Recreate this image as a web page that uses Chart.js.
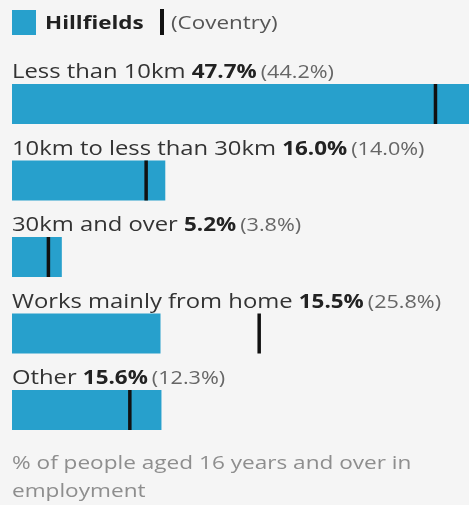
<!DOCTYPE html>
<html>
<head>
<meta charset="utf-8">
<script src="https://cdn.jsdelivr.net/npm/chart.js@4.4.1/dist/chart.umd.min.js"></script>
<style>
  html, body { margin: 0; padding: 0; background: #f5f5f5; }
  body { width: 469px; height: 505px; position: relative; overflow: hidden; font-family: "Open Sans", sans-serif; }
  #wrap { position: absolute; left: 0; top: 0; width: 469px; height: 505px; }
  .sw { position: absolute; left: 12px; top: 10px; width: 24px; height: 25px; background: #27a0cc; }
  .name { position: absolute; left: 45px; top: 10px; line-height: 25px; font-size: 18px; font-weight: bold; color: #222; transform: scaleX(1.245); transform-origin: left center; white-space: nowrap; }
  .mk { position: absolute; left: 160px; top: 9px; width: 4px; height: 26px; background: #111; }
  .cmp { position: absolute; left: 171px; top: 10px; line-height: 25px; font-size: 18px; color: #555; transform: scaleX(1.245); transform-origin: left center; white-space: nowrap; }
  #footer { position: absolute; left: 12px; top: 448px; width: 340px; font-size: 18px; line-height: 28px; color: #8e8e8e; transform: scaleX(1.255); transform-origin: left top; }
</style>
</head>
<body>
<div id="wrap"><canvas id="c"></canvas></div>
<div class="sw"></div><span class="name">Hillfields</span><div class="mk"></div><span class="cmp">(Coventry)</span>
<div id="footer">% of people aged 16 years and over in employment</div>
<script>
const categories = ["Less than 10km", "10km to less than 30km", "30km and over", "Works mainly from home", "Other"];
const hillfields = [47.7, 16.0, 5.2, 15.5, 15.6];
const coventry = [44.2, 14.0, 3.8, 25.8, 12.3];

function drawStretched(ctx, text, x, y, sx) {
  ctx.save();
  ctx.translate(x, y);
  ctx.scale(sx, 1);
  ctx.fillText(text, 0, 0);
  const w = ctx.measureText(text).width * sx;
  ctx.restore();
  return w;
}

const labelPlugin = {
  id: 'labels',
  afterDatasetsDraw(chart) {
    const ctx = chart.ctx;
    const meta = chart.getDatasetMeta(1);
    ctx.save();
    ctx.textBaseline = 'alphabetic';
    meta.data.forEach((bar, i) => {
      const y = bar.y - 26;
      let x = 12;
      ctx.font = '20px "Open Sans"';
      ctx.fillStyle = '#333';
      x += drawStretched(ctx, categories[i] + ' ', x, y, 1.19);
      ctx.font = 'bold 20px "Open Sans"';
      ctx.fillStyle = '#222';
      x += drawStretched(ctx, hillfields[i].toFixed(1) + '%', x, y, 1.12) + 4;
      ctx.font = '18px "Open Sans"';
      ctx.fillStyle = '#666';
      drawStretched(ctx, '(' + coventry[i].toFixed(1) + '%)', x, y, 1.2);
    });
    ctx.restore();
  }
};

new Chart(document.getElementById('c'), {
  type: 'bar',
  data: {
    labels: categories,
    datasets: [
      {
        type: 'line',
        label: 'Coventry',
        data: coventry,
        showLine: false,
        pointStyle: 'line',
        rotation: 90,
        radius: 20,
        hoverRadius: 20,
        borderColor: '#111',
        borderWidth: 3.5,
        clip: false,
        order: 0
      },
      {
        label: 'Hillfields',
        data: hillfields,
        backgroundColor: '#27a0cc',
        barPercentage: 0.523,
        categoryPercentage: 1,
        order: 1
      }
    ]
  },
  options: {
    indexAxis: 'y',
    responsive: true,
    maintainAspectRatio: false,
    animation: false,
    layout: { autoPadding: false, padding: { top: 65.75, bottom: 56.75, left: 12, right: 0 } },
    plugins: { legend: { display: false }, tooltip: { enabled: false } },
    scales: {
      x: { display: false, min: 0, max: 47.7 },
      y: { display: false }
    }
  },
  plugins: [labelPlugin]
});
</script>
</body>
</html>
